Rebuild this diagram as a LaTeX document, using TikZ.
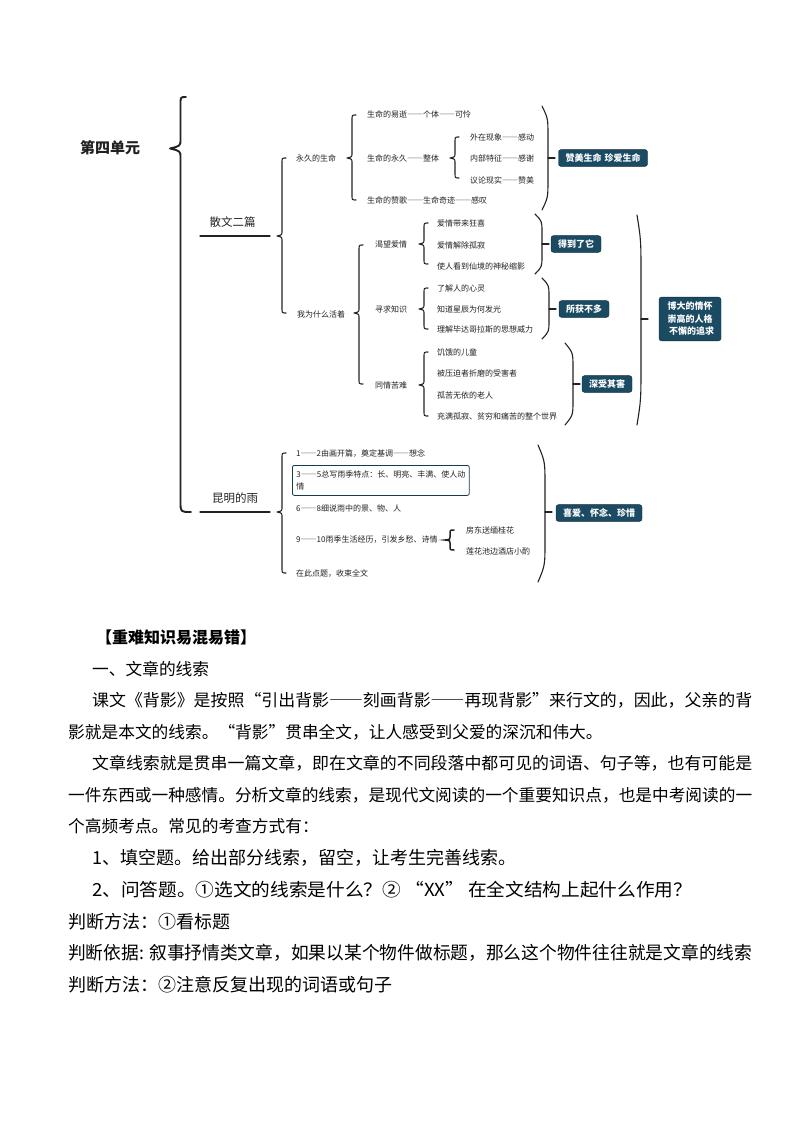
\documentclass[tikz,border=0pt]{standalone}
\usepackage{fontspec}
\usepackage{graphicx}
\setmainfont{Noto Sans CJK SC}
\definecolor{boxc}{HTML}{1B4A63}
\definecolor{inkc}{HTML}{222222}
\newcommand\zdash{{\addfontfeature{RawFeature=+fwid}——}}
\newcommand\qL{{\addfontfeature{RawFeature=+fwid}“}}
\newcommand\qR{{\addfontfeature{RawFeature=+fwid}”}}
\newcommand\fitto[2]{\resizebox{#1}{\height}{#2}}
\tikzset{
  lbl/.style={anchor=west, inner sep=0pt, text=inkc, font=\fontsize{8}{9}\selectfont},
  mid/.style={anchor=center, inner sep=0pt, text=inkc, font=\fontsize{11.5}{13}\selectfont},
  tag/.style={fill=boxc, draw=boxc!60!black, rounded corners=2.5pt, text=white,
    font=\fontsize{9}{12}\bfseries\selectfont, inner xsep=7pt, inner ysep=4pt},
  brc/.style={line width=1.1pt, line cap=round, line join=round, draw=inkc},
  bigbrc/.style={line width=1.9pt, line cap=round, line join=round, draw=inkc},
  bodytxt/.style={anchor=west, inner sep=0pt, font=\fontsize{16.7}{20}\selectfont},
  bodybig/.style={anchor=west, inner sep=0pt, font=\fontsize{18}{21}\selectfont},
  hdtxt/.style={anchor=west, inner sep=0pt, font=\fontsize{16}{20}\bfseries\selectfont}
}
% left curly brace: x, top, bottom, tip-y
\newcommand\mybrace[4]{%
  \draw[brc] ({#1+4},{#2}) .. controls ({#1},{#2}) .. ({#1},{#2+5})
    -- ({#1},{#4-5}) .. controls ({#1},{#4-1}) .. ({#1-5},{#4})
    .. controls ({#1},{#4+1}) .. ({#1},{#4+5})
    -- ({#1},{#3-5}) .. controls ({#1},{#3}) .. ({#1+4},{#3});}
% right parenthesis: x-ends, x-bulge, top, bottom, tick-y
\newcommand\myparen[5]{%
  \draw[brc] ({#1},{#3}) .. controls ({#2},{#3+0.12*(#4-#3)}) .. ({#2},{#3+0.3*(#4-#3)})
    -- ({#2},{#4-0.3*(#4-#3)}) .. controls ({#2},{#4-0.12*(#4-#3)}) .. ({#1},{#4});
  \draw[brc] ({#2},{#5}) -- ({#2+7},{#5});}
\begin{document}
\begin{tikzpicture}[x=1pt,y=-1pt]
\useasboundingbox (0,0) rectangle (794,1123);

% ---------- root ----------
\node[anchor=west, inner sep=0pt, text=inkc, font=\fontsize{15}{17}\bfseries\selectfont] (root) at (80,148) {第四单元};
\draw[bigbrc] (186,97) .. controls (180.5,97) .. (180.5,104) -- (180.5,139)
  .. controls (180.5,146) .. (170,148.5) .. controls (180.5,151) .. (180.5,158)
  -- (180.5,502) .. controls (180.5,512) .. (191,512);

% ---------- 散文二篇 ----------
\node[mid] (sw) at (232.5,222) {散文二篇};
\coordinate (swL) at (200,236);
\coordinate (swR) at (270,236);
\draw[brc] (swL) -- (swR);
\mybrace{282}{158}{313}{236}

\node[lbl] (yj) at (296,158) {永久的生命};
\node[lbl] (wh) at (297,314) {我为什么活着};

% 永久的生命
\mybrace{352}{115}{200}{158}
\node[lbl] (a1) at (367,114) {生命的易逝\zdash 个体\zdash 可怜};
\node[lbl] (a2) at (367,158) {生命的永久\zdash 整体};
\node[lbl] (a3) at (367,200) {生命的赞歌\zdash 生命奇迹\zdash 感叹};
\mybrace{455}{137}{178}{158}
\node[lbl] (b1) at (470,137) {外在现象\zdash 感动};
\node[lbl] (b2) at (470,158) {内部特征\zdash 感谢};
\node[lbl] (b3) at (470,180) {议论现实\zdash 赞美};
\myparen{542}{548}{106}{210}{158}
\node[tag] (t1) at (603,158) {赞美生命\hspace{3pt}珍爱生命};

% 我为什么活着
\mybrace{359}{245}{384}{313}
\node[lbl] (c1) at (375,244) {渴望爱情};
\node[lbl] (c2) at (375,309) {寻求知识};
\node[lbl] (c3) at (375,385) {同情苦难};

\mybrace{424}{223}{264}{244}
\node[lbl] (d1) at (437,223) {爱情带来狂喜};
\node[lbl] (d2) at (437,245) {爱情解除孤寂};
\node[lbl] (d3) at (437,266) {使人看到仙境的神秘缩影};
\myparen{535}{542}{214}{274}{244}
\node[tag] (t2) at (576,244) {得到了它};

\mybrace{424}{288}{329}{309}
\node[lbl] (e1) at (437,288) {了解人的心灵};
\node[lbl] (e2) at (437,309) {知道星辰为何发光};
\node[lbl] (e3) at (437,329) {理解毕达哥拉斯的思想威力};
\myparen{542}{549}{278}{339}{309}
\node[tag] (t3) at (584,309) {所获不多};

\mybrace{424}{352}{416}{385}
\node[lbl] (f1) at (437,352) {饥饿的儿童};
\node[lbl] (f2) at (437,373) {被压迫者折磨的受害者};
\node[lbl] (f3) at (437,395) {孤苦无依的老人};
\node[lbl] (f4) at (437,416) {充满孤寂、贫穷和痛苦的整个世界};
\myparen{565}{573}{343}{425}{384}
\node[tag] (t4) at (607,384) {深受其害};

\myparen{637}{641}{215}{425}{319}
\node[tag, align=center, font=\fontsize{9}{12.5}\bfseries\selectfont, inner ysep=5pt] (t5) at (690,319) {博大的情怀\\崇高的人格\\\hspace*{3pt}不懈的追求};

% ---------- 昆明的雨 ----------
\node[mid] (km) at (235,498) {昆明的雨};
\coordinate (kmL) at (200,512);
\coordinate (kmR) at (270,512);
\draw[brc] (kmL) -- (kmR);
\mybrace{282}{453}{573}{512}
\node[lbl] (g1) at (296,453) {1\zdash 2由画开篇，奠定基调\zdash 想念};
\node[draw=boxc!80!black, line width=0.8pt, rounded corners=2pt, anchor=north west,
  minimum width=176pt, minimum height=30pt, inner xsep=4pt, inner ysep=3pt,
  align=left, text=inkc, font=\fontsize{8}{12}\selectfont] (g2) at (292,465)
  {\mbox{3\zdash 5总写雨季特点：长、明亮、丰满、使人动}\\情};
\node[lbl] (g3) at (296,508) {6\zdash 8细说雨中的景、物、人};
\node[lbl] (g4) at (296,540) {9\zdash 10雨季生活经历，引发乡愁、诗情};
\node[lbl] (g5) at (296,574) {在此点题，收束全文};
\draw[line width=1.5pt, line cap=round, draw=inkc] (454,530) .. controls (450,530) .. (450,534) -- (450,537)
  .. controls (450,539.5) .. (445,540) .. controls (450,540.5) .. (450,543) -- (450,546)
  .. controls (450,550) .. (454,550);
\node[lbl] (h1) at (466,530) {房东送缅桂花};
\node[lbl] (h2) at (466,551) {莲花池边酒店小酌};
\myparen{538}{545}{445}{582}{512}
\node[tag] (t6) at (599,513) {喜爱、怀念、珍惜};

% ---------- body text ----------
\node[hdtxt] (p0) at (96,637) {【重难知识易混易错】};
\node[bodytxt] (p1) at (92,668.6) {一、文章的线索};
\node[bodytxt] (p2) at (92,700.2) {\fitto{660pt}{课文《背影》是按照\qL 引出背影\zdash 刻画背影\zdash 再现背影\qR 来行文的，因此，父亲的背}};
\node[bodytxt] (p3) at (68,731.8) {影就是本文的线索。\qL 背影\qR 贯串全文，让人感受到父爱的深沉和伟大。};
\node[bodytxt] (p4) at (92,763.4) {\fitto{660pt}{文章线索就是贯串一篇文章，即在文章的不同段落中都可见的词语、句子等，也有可能是}};
\node[bodytxt] (p5) at (68,795) {\fitto{684pt}{一件东西或一种感情。分析文章的线索，是现代文阅读的一个重要知识点，也是中考阅读的一}};
\node[bodytxt] (p6) at (68,826.6) {个高频考点。常见的考查方式有：};
\node[bodybig] (p7) at (92,858.2) {1、填空题。给出部分线索，留空，让考生完善线索。};
\node[bodybig] (p8) at (92,889.8) {\fitto{600pt}{2、问答题。①选文的线索是什么？② \qL XX\qR\ 在全文结构上起什么作用？}};
\node[bodybig] (p9) at (68,921.4) {判断方法：①看标题};
\node[bodybig] (p10) at (68,953) {\fitto{684pt}{判断依据: 叙事抒情类文章，如果以某个物件做标题，那么这个物件往往就是文章的线索}};
\node[bodybig] (p11) at (68,984.6) {判断方法：②注意反复出现的词语或句子};
\end{tikzpicture}
\end{document}
